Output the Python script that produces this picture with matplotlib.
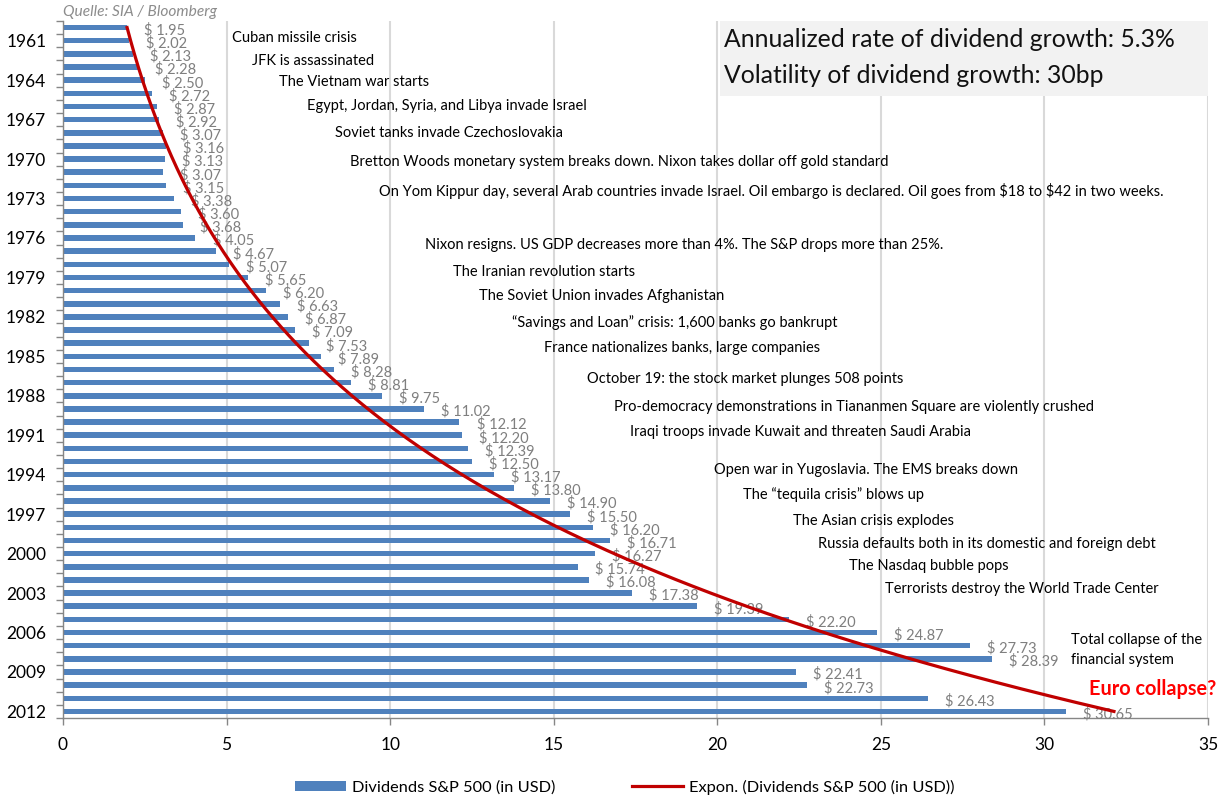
import numpy as np
import matplotlib
matplotlib.use("Agg")
import matplotlib.pyplot as plt
from matplotlib.patches import Rectangle
from matplotlib.lines import Line2D

# ---------------- data ----------------
years = list(range(1960, 2013))
dividends = [1.95, 2.02, 2.13, 2.28, 2.50, 2.72, 2.87, 2.92, 3.07, 3.16,
             3.13, 3.07, 3.15, 3.38, 3.60, 3.68, 4.05, 4.67, 5.07, 5.65,
             6.20, 6.63, 6.87, 7.09, 7.53, 7.89, 8.28, 8.81, 9.75, 11.02,
             12.12, 12.20, 12.39, 12.50, 13.17, 13.80, 14.90, 15.50, 16.20, 16.71,
             16.27, 15.74, 16.08, 17.38, 19.39, 22.20, 24.87, 27.73, 28.39, 22.41,
             22.73, 26.43, 30.65]
tick_years = list(range(1961, 2013, 3))
x_ticks = [0, 5, 10, 15, 20, 25, 30, 35]

events = [
    "Cuban missile crisis",
    "JFK is assassinated",
    "The Vietnam war starts",
    "Egypt, Jordan, Syria, and Libya invade Israel",
    "Soviet tanks invade Czechoslovakia",
    "Bretton Woods monetary system breaks down. Nixon takes dollar off gold standard",
    "On Yom Kippur day, several Arab countries invade Israel. Oil embargo is declared. Oil goes from $18 to $42 in two weeks.",
    "Nixon resigns. US GDP decreases more than 4%. The S&P drops more than 25%.",
    "The Iranian revolution starts",
    "The Soviet Union invades Afghanistan",
    "\u201cSavings and Loan\u201d crisis: 1,600 banks go bankrupt",
    "France nationalizes banks, large companies",
    "October 19: the stock market plunges 508 points",
    "Pro-democracy demonstrations in Tiananmen Square are violently crushed",
    "Iraqi troops invade Kuwait and threaten Saudi Arabia",
    "Open war in Yugoslavia. The EMS breaks down",
    "The \u201ctequila crisis\u201d blows up",
    "The Asian crisis explodes",
    "Russia defaults both in its domestic and foreign debt",
    "The Nasdaq bubble pops",
    "Terrorists destroy the World Trade Center",
    "Total collapse of the\nfinancial system",
]
# annotation anchor positions (x value, year position)
event_x = [5.17, 5.78, 6.61, 7.46, 8.32, 8.78, 9.66, 11.07, 11.93, 12.72, 13.73,
           14.71, 16.02, 16.85, 17.34, 19.91, 20.80, 22.32, 23.09, 24.04, 25.14, 30.80]
event_y = [1960.76, 1962.51, 1964.11, 1966.0, 1967.98, 1970.19, 1972.40, 1976.50,
           1978.56, 1980.38, 1982.43, 1984.33, 1986.69, 1988.82, 1990.72, 1993.61,
           1995.51, 1997.49, 1999.24, 2000.91, 2002.68, 2007.32]

FONT = ["Lato", "DejaVu Sans"]
plt.rcParams["font.family"] = FONT
plt.rcParams["text.parse_math"] = False

BAR = "#4f81bd"
RED = "#c00000"
GRID = "#d9d9d9"
LBL = "#7f7f7f"

fig = plt.figure(figsize=(12.25, 8.01), dpi=100)
ax = fig.add_axes([63 / 1225, 1 - 718 / 801, (1208 - 63) / 1225, (718 - 21) / 801])

ax.barh(years, dividends, height=0.42, color=BAR, zorder=2)

# exponential trend (least squares on log values, as Excel does)
idx = np.arange(1, len(years) + 1)
b, ln_a = np.polyfit(idx, np.log(dividends), 1)
t = np.linspace(1, len(years), 400)
ax.plot(np.exp(ln_a + b * t), years[0] + t - 1, color=RED, lw=2.3, zorder=4)

# value labels
for yr, v in zip(years, dividends):
    ax.text(v + 0.52, yr + 0.2, f"$ {v:.2f}", color=LBL, fontsize=10.5,
            va="center", ha="left", zorder=3)

for txt, ex, ey in zip(events, event_x, event_y):
    ax.text(ex, ey, txt, fontsize=10.5, color="black", va="center", ha="left",
            linespacing=1.6, zorder=5)

ax.text(31.35, 2010.27, "Euro collapse?", color="#ff0000", fontsize=14.3,
        fontweight="bold", va="center", ha="left", zorder=5)

# info box
ax.add_patch(Rectangle((0.574, 0.892), 0.426, 0.108, transform=ax.transAxes,
                       facecolor="#f2f2f2", edgecolor="none", zorder=6))
ax.text(0.577, 0.973, "Annualized rate of dividend growth: 5.3%", transform=ax.transAxes,
        fontsize=17.8, va="center", ha="left", zorder=7, color="#111111")
ax.text(0.577, 0.922, "Volatility of dividend growth: 30bp", transform=ax.transAxes,
        fontsize=17.8, va="center", ha="left", zorder=7, color="#111111")

ax.set_xlim(0, 35)
ax.set_ylim(years[-1] + 0.5, years[0] - 0.5)
ax.set_xticks(x_ticks)
ax.set_xticklabels([str(v) for v in x_ticks], fontsize=12.5)
ax.set_yticks(tick_years)
ax.set_yticklabels([str(v) for v in tick_years], fontsize=12.5)
ax.set_yticks(np.arange(years[0] - 0.5, years[-1] + 1.0, 1.0), minor=True)
ax.tick_params(axis="y", which="major", length=0, pad=12)
ax.tick_params(axis="y", which="minor", length=5, color="#868686", width=1)
ax.tick_params(axis="x", which="major", length=5, color="#868686", width=1, pad=9)
ax.xaxis.grid(True, color=GRID, lw=1.5, zorder=0)
ax.set_axisbelow(True)
for s in ["top", "right"]:
    ax.spines[s].set_visible(False)
for s in ["left", "bottom"]:
    ax.spines[s].set_color("#868686")
    ax.spines[s].set_linewidth(1)

fig.text(63 / 1225, 1 - 12 / 801, "Quelle: SIA / Bloomberg", fontsize=11.2, style="italic",
         color="#8c8c8c", va="center", ha="left")

handles = [Rectangle((0, 0), 1, 1, facecolor=BAR, edgecolor="none"),
           Line2D([0], [0], color=RED, lw=2.3)]
fig.legend(handles, ["Dividends S&P 500 (in USD)", "Expon. (Dividends S&P 500 (in USD))"],
           loc="center", bbox_to_anchor=(0.510, 1 - 787 / 801), ncol=2, frameon=False,
           fontsize=11.8, handlelength=3.1, handleheight=0.6, columnspacing=4.7, handletextpad=0.35)

fig.savefig("out.png", dpi=100)
